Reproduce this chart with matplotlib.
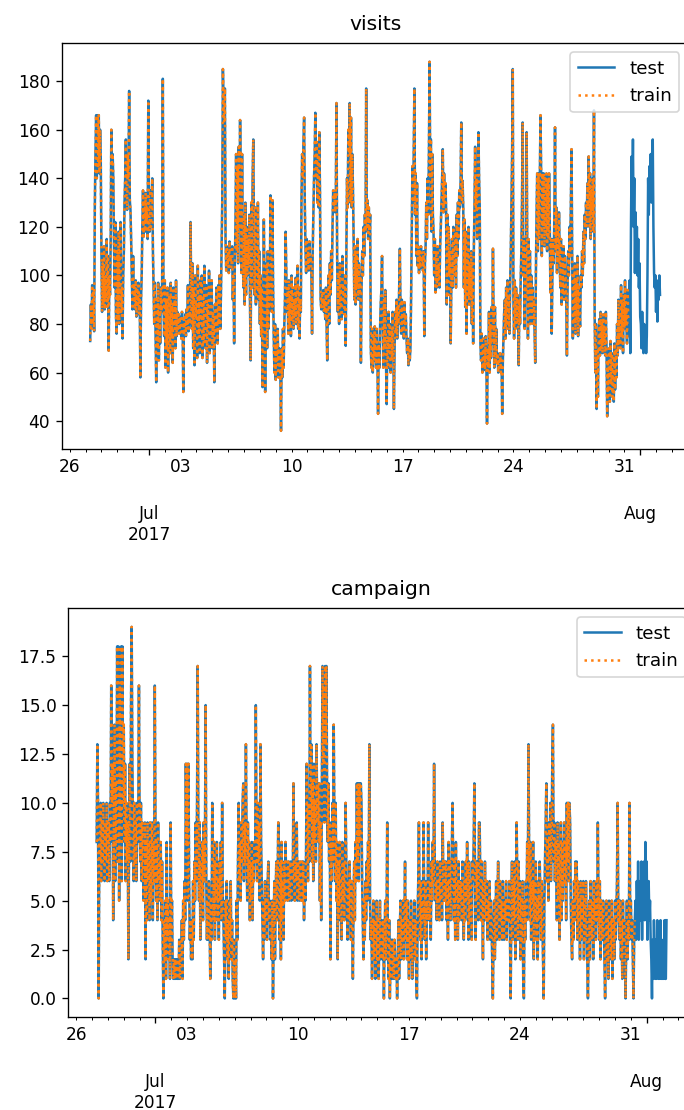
import numpy as np
import pandas as pd
import matplotlib
matplotlib.use("Agg")
import matplotlib.pyplot as plt
import matplotlib.dates as mdates
from matplotlib.ticker import FuncFormatter, MultipleLocator

# ---------------- data (hourly, starting 2017-06-27 07:00) ----------------
start = "2017-06-27 07:00"
n_train = 816

visits_a = [73, 88, 78, 96, 80, 94, 77, 128, 150, 166, 140, 166, 145, 166, 142, 160, 148, 110, 85, 105, 88, 112, 86, 100,
            90, 115, 87, 108, 69, 100, 92, 113, 160, 145, 150, 140, 115, 95, 122, 84, 76, 110, 82, 118, 80, 100, 122, 85,
            95, 74, 100, 110, 130, 140, 156, 131, 127, 150, 140, 176, 131, 127, 115, 100, 86, 108, 90, 95, 86, 98, 83, 95,
            88, 97, 84, 92, 58, 90, 100, 120, 135, 116, 130, 118, 134, 122, 128, 115, 172, 130, 118, 135, 120, 128, 140, 110,
            95, 80, 97, 75, 56, 90, 70, 97, 65, 88, 72, 95, 85, 98, 181, 90, 75, 98, 62, 90, 70, 95, 60, 85,
            92, 68, 97, 74, 88, 64, 95, 80, 90, 70, 98, 75, 85, 78, 84, 76, 83, 80, 74, 85, 79, 52, 82, 77]
visits_b = [84, 75, 86, 79, 96, 77, 85, 80, 122, 90, 78, 105, 70, 95, 63, 100, 82, 88, 66, 104, 75, 92, 68, 98,
            80, 100, 66, 92, 72, 104, 85, 70, 96, 64, 88, 78, 102, 68, 90, 75, 98, 70, 85, 80, 56, 88, 76, 95,
            85, 72, 96, 80, 100, 78, 92, 110, 130, 185, 170, 163, 177, 115, 102, 112, 104, 110, 101, 114, 106, 108, 103, 112,
            90, 100, 72, 105, 120, 150, 110, 145, 105, 153, 120, 164, 140, 101, 150, 115, 95, 125, 88, 130, 92, 120, 100, 115,
            105, 125, 90, 65, 130, 95, 140, 156, 120, 92, 128, 88, 118, 95, 130, 90, 110, 80, 100, 75, 95, 54, 90, 123,
            95, 52, 85, 105, 70, 110, 78, 100, 88, 133, 110, 85, 131, 95, 75, 60, 80, 57, 72, 65, 78, 58, 70, 62]
visits_c = [60, 36, 70, 58, 78, 62, 80, 90, 118, 100, 85, 95, 76, 98, 80, 92, 75, 100, 82, 95, 78, 90, 84, 99,
            80, 96, 104, 78, 95, 74, 90, 85, 131, 150, 140, 155, 165, 130, 112, 101, 115, 104, 110, 102, 114, 105, 108, 101,
            76, 110, 125, 140, 150, 167, 140, 155, 130, 150, 128, 159, 135, 90, 86, 92, 88, 94, 85, 90, 82, 95, 80, 65,
            88, 100, 80, 105, 92, 110, 98, 120, 135, 128, 134, 126, 132, 171, 108, 85, 100, 80, 105, 88, 96, 82, 108, 90,
            95, 84, 100, 71, 110, 140, 128, 160, 150, 171, 130, 165, 128, 150, 135, 115, 90, 112, 88, 108, 95, 115, 90, 105,
            92, 100, 64, 95, 110, 100, 120, 108, 125, 118, 177, 120, 131, 115, 128, 118, 125, 70, 62, 78, 60, 75, 65, 79]
visits_d = [70, 62, 78, 65, 43, 72, 62, 78, 88, 94, 108, 80, 62, 90, 70, 94, 65, 47, 75, 62, 85, 68, 80, 60,
            78, 65, 85, 72, 45, 70, 85, 76, 90, 74, 88, 80, 95, 111, 85, 76, 90, 78, 86, 74, 89, 80, 84, 75,
            68, 74, 63, 72, 65, 70, 90, 120, 145, 130, 150, 177, 125, 142, 108, 138, 104, 112, 101, 110, 103, 112, 105, 108,
            102, 110, 75, 105, 112, 130, 115, 140, 125, 150, 188, 140, 156, 118, 150, 125, 118, 100, 115, 93, 110, 95, 112, 98,
            105, 95, 112, 120, 130, 140, 152, 126, 142, 130, 138, 128, 88, 125, 92, 120, 100, 110, 72, 98, 115, 95, 120, 105,
            100, 118, 95, 125, 108, 130, 115, 135, 128, 139, 163, 130, 139, 128, 95, 123, 87, 118, 76, 110, 92, 120, 88, 105]
visits_e = [92, 110, 80, 105, 72, 110, 128, 153, 128, 140, 115, 135, 159, 140, 128, 72, 65, 76, 60, 74, 62, 70, 61, 75,
            65, 39, 70, 62, 85, 60, 80, 66, 87, 72, 111, 80, 62, 87, 65, 78, 64, 68, 60, 66, 62, 68, 60, 65,
            43, 65, 75, 85, 90, 74, 95, 78, 98, 80, 92, 76, 96, 110, 130, 150, 185, 90, 74, 98, 78, 95, 80, 92,
            85, 63, 90, 80, 98, 110, 130, 163, 100, 115, 78, 112, 90, 159, 108, 74, 115, 85, 110, 80, 100, 85, 95, 80,
            90, 78, 64, 100, 125, 142, 110, 142, 115, 142, 166, 142, 108, 142, 120, 142, 112, 140, 118, 142, 110, 138, 115, 142,
            122, 93, 115, 76, 100, 115, 105, 125, 161, 110, 128, 101, 120, 105, 126, 110, 95, 115, 88, 106, 92, 112, 90, 108]
visits_f = [100, 90, 67, 95, 110, 100, 120, 108, 130, 152, 108, 74, 100, 80, 105, 76, 98, 82, 108, 75, 95, 84, 79, 100,
            95, 110, 100, 118, 105, 125, 115, 130, 120, 138, 128, 149, 120, 142, 115, 135, 125, 140, 118, 168, 85, 60, 80, 45,
            70, 50, 75, 82, 67, 85, 70, 80, 68, 84, 72, 78, 67, 85, 70, 42, 65, 52, 70, 48, 73, 55, 68, 50,
            66, 48, 72, 53, 70, 58, 80, 67, 90, 72, 85, 70, 96, 75, 88, 68, 92, 78, 98, 80, 85, 72, 94, 82,
            75, 98, 68, 120, 149, 130, 156, 120, 140, 101, 126, 110, 120, 100, 115, 95, 105, 83, 80, 70, 85, 75, 68, 80,
            70, 78, 68, 75, 100, 140, 125, 145, 135, 150, 130, 148, 156, 120, 101, 95, 100, 85, 98, 81, 95, 90, 100, 92]

campaign_a = [8, 13, 10, 0, 8, 7, 10, 6, 9, 7, 10, 8, 6, 9, 7, 10, 6, 8, 9, 6, 10, 8, 16, 10,
              12, 4, 9, 14, 6, 11, 8, 18, 7, 18, 5, 16, 9, 18, 6, 18, 10, 14, 8, 12, 6, 10, 7, 9,
              2, 8, 12, 7, 15, 19, 12, 9, 6, 10, 7, 9, 6, 10, 8, 9, 16, 9, 7, 10, 6, 9, 8, 5,
              6, 9, 2, 8, 4, 9, 6, 8, 4, 9, 5, 7, 9, 4, 8, 6, 16, 9, 5, 8, 4, 9, 6, 7,
              5, 8, 4, 7, 3, 0, 4, 2, 5, 1, 8, 3, 5, 2, 4, 1, 9, 3, 5, 2, 1, 2, 1, 2,
              1, 2, 1, 2, 1, 3, 1, 2, 2, 4, 1, 5, 3, 6, 4, 12, 8, 12, 5, 12, 6, 3, 4, 2]
campaign_b = [4, 2, 6, 3, 7, 5, 9, 6, 10, 17, 8, 5, 9, 3, 7, 5, 8, 4, 9, 6, 8, 15, 6, 3,
              5, 3, 6, 4, 1, 5, 3, 10, 6, 4, 8, 3, 7, 5, 8, 4, 6, 3, 7, 5, 8, 4, 10, 5,
              4, 2, 0, 5, 3, 6, 2, 4, 1, 5, 3, 6, 2, 4, 1, 0, 3, 0, 2, 0, 5, 3, 7, 10,
              6, 8, 5, 9, 7, 10, 11, 6, 9, 7, 13, 8, 5, 9, 6, 8, 4, 7, 5, 8, 4, 7, 6, 8,
              7, 15, 9, 6, 10, 7, 9, 5, 13, 8, 6, 4, 2, 5, 3, 6, 4, 5, 3, 6, 7, 4, 5, 3,
              4, 2, 5, 0, 3, 6, 2, 5, 7, 4, 6, 9, 5, 3, 7, 2, 8, 4, 6, 3, 7, 5, 8, 6]
campaign_c = [6, 5, 7, 6, 5, 7, 6, 5, 7, 6, 11, 6, 5, 7, 6, 9, 5, 7, 6, 5, 7, 6, 5, 7,
              5, 7, 4, 6, 5, 7, 12, 8, 6, 10, 7, 17, 9, 13, 7, 11, 6, 12, 8, 10, 7, 13, 9, 11,
              8, 11, 5, 9, 4, 10, 17, 12, 16, 9, 17, 13, 17, 10, 8, 11, 7, 9, 2, 8, 6, 10, 7, 14,
              9, 6, 10, 5, 8, 2, 7, 4, 8, 5, 6, 3, 8, 5, 7, 4, 6, 10, 7, 5, 3, 6, 4, 7,
              5, 3, 6, 4, 1, 5, 7, 4, 8, 6, 11, 7, 11, 6, 11, 8, 11, 10, 6, 4, 2, 5, 3, 6,
              4, 7, 5, 8, 6, 13, 5, 3, 4, 1, 3, 5, 2, 4, 1, 3, 5, 2, 4, 1, 3, 5, 2, 4]
campaign_d = [3, 2, 4, 0, 3, 5, 2, 4, 9, 3, 1, 4, 0, 2, 3, 1, 3, 2, 1, 3, 2, 1, 2, 0,
              2, 4, 1, 3, 5, 2, 4, 3, 5, 2, 4, 7, 3, 5, 2, 5, 3, 1, 4, 2, 5, 3, 1, 4,
              3, 5, 2, 4, 1, 0, 4, 6, 9, 5, 3, 6, 2, 5, 4, 9, 5, 3, 6, 2, 5, 4, 9, 5,
              4, 6, 3, 7, 5, 8, 6, 12, 7, 5, 6, 4, 7, 5, 6, 4, 7, 5, 6, 4, 9, 6, 5, 7,
              5, 7, 4, 6, 3, 8, 5, 7, 4, 6, 8, 10, 6, 4, 7, 3, 8, 5, 6, 3, 7, 4, 6, 5,
              6, 4, 7, 5, 3, 6, 4, 7, 5, 8, 6, 3, 7, 4, 6, 5, 3, 7, 6, 8, 11, 6, 3, 7]
campaign_e = [5, 7, 4, 9, 9, 6, 4, 7, 5, 2, 6, 4, 7, 5, 4, 6, 3, 5, 4, 6, 3, 5, 4, 2,
              0, 3, 5, 2, 4, 6, 3, 5, 7, 4, 3, 6, 4, 5, 3, 6, 4, 3, 5, 4, 6, 3, 5, 4,
              4, 6, 3, 0, 5, 7, 3, 6, 4, 7, 2, 5, 9, 6, 3, 7, 4, 6, 2, 5, 3, 6, 1, 0,
              5, 3, 6, 4, 8, 6, 13, 7, 4, 8, 3, 6, 5, 8, 2, 6, 4, 7, 3, 5, 2, 6, 4, 7,
              5, 3, 6, 4, 2, 0, 5, 7, 9, 11, 6, 8, 5, 9, 7, 10, 6, 8, 12, 14, 7, 9, 6, 8,
              7, 4, 9, 5, 8, 3, 6, 9, 4, 8, 5, 7, 9, 6, 8, 4, 10, 7, 10, 6, 10, 9, 5, 3]
campaign_f = [2, 5, 3, 6, 4, 7, 5, 7, 3, 6, 4, 5, 2, 6, 3, 5, 4, 6, 2, 5, 3, 6, 4, 2,
              0, 3, 5, 2, 6, 4, 3, 5, 2, 6, 4, 5, 3, 6, 4, 9, 5, 3, 6, 2, 5, 4, 3, 5,
              4, 2, 0, 3, 5, 2, 4, 1, 5, 3, 4, 2, 5, 1, 3, 4, 2, 5, 3, 4, 6, 10, 4, 5,
              3, 5, 2, 4, 1, 5, 3, 4, 2, 0, 3, 5, 2, 4, 3, 10, 4, 5, 3, 4, 2, 0, 3, 4,
              5, 3, 6, 4, 7, 3, 5, 6, 4, 7, 3, 6, 5, 7, 4, 8, 6, 7, 3, 5, 6, 4, 5, 3,
              2, 0, 3, 1, 4, 2, 1, 3, 1, 4, 2, 1, 3, 1, 4, 1, 2, 1, 3, 1, 4, 1, 1, 4]

visits = visits_a + visits_b + visits_c + visits_d + visits_e + visits_f
campaign = campaign_a + campaign_b + campaign_c + campaign_d + campaign_e + campaign_f
index = pd.date_range(start, periods=len(visits), freq="h")
df = pd.DataFrame({"visits": visits, "campaign": campaign}, index=index)
train = df.iloc[:n_train]
test = df

# ---------------- figure ----------------
plt.rcParams["font.size"] = 10.2
W, H, DPI = 684, 1110, 120
fig = plt.figure(figsize=(W / DPI, H / DPI), dpi=DPI)

# axes boxes in pixels: (left, top, right, bottom)
boxes = {"visits": (61.7, 43.3, 688.5, 449.3),
         "campaign": (68.2, 608.3, 695.0, 1017.0)}


def minor_fmt(x, pos):
    d = mdates.num2date(x)
    return d.strftime("%d") if d.weekday() == 0 else ""


def major_fmt(x, pos):
    d = mdates.num2date(x)
    if d.month == 7:
        return d.strftime("%b") + "\n" + d.strftime("%Y")
    return d.strftime("%b")


for col, ystep in (("visits", 20), ("campaign", 2.5)):
    l, t, r, b = boxes[col]
    ax = fig.add_axes([l / W, 1 - b / H, (r - l) / W, (b - t) / H])
    ax.plot(test.index, test[col], color="#1f77b4", lw=1.5, label="test")
    ax.plot(train.index, train[col], color="#ff7f0e", lw=1.5, ls=":", label="train")
    ax.set_title(col, pad=8)
    ax.legend(loc="upper right", fontsize=11)
    ax.yaxis.set_major_locator(MultipleLocator(ystep))
    ax.xaxis.set_major_locator(mdates.MonthLocator())
    ax.xaxis.set_minor_locator(mdates.DayLocator())
    ax.xaxis.set_major_formatter(FuncFormatter(major_fmt))
    ax.xaxis.set_minor_formatter(FuncFormatter(minor_fmt))
    ax.tick_params(axis="x", which="major", pad=30)
    for lab in ax.get_xticklabels():
        lab.set_rotation(0)
        lab.set_ha("center")

fig.savefig("out.png", dpi=DPI)
